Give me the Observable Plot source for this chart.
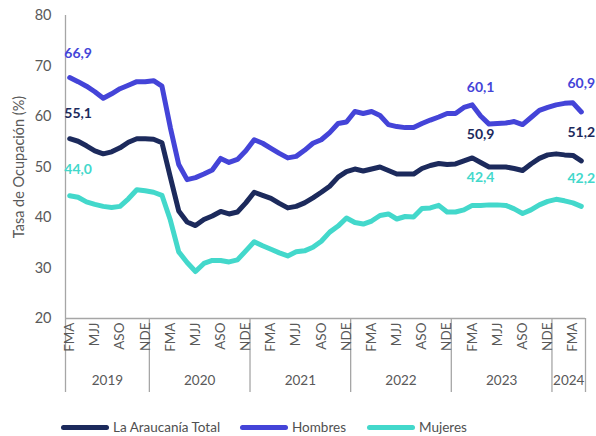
<!DOCTYPE html>
<html><head><meta charset="utf-8">
<script src="https://cdn.jsdelivr.net/npm/d3@7"></script>
<script src="https://cdn.jsdelivr.net/npm/@observablehq/plot@0.6"></script>
<style>
body{margin:0;background:#fff;font-family:Lato,sans-serif;}
#chart{position:relative;width:596px;height:436px;background:#fff;}
.legend{position:absolute;top:400px;left:0;width:596px;height:36px;}
.item{position:absolute;top:19px;display:flex;align-items:center;font-size:13.5px;color:#505050;line-height:16px;white-space:nowrap;}
.sw{width:48px;height:5px;border-radius:3px;margin-right:4px;}
</style></head><body><div id="chart"></div>
<script>
// Rolling-quarter names and years
const months = ["DEF","EFM","FMA","MAM","AMJ","MJJ","JJA","JAS","ASO","SON","OND","NDE"];
const years = ["2019","2020","2021","2022","2023","2024"];
const yearStart = [2, 0, 0, 0, 0, 0];   // first month index shown in each year
const yearEnd   = [11, 11, 11, 11, 11, 3];
const shownMonths = ["FMA","MJJ","ASO","NDE"];
const yTicks = [20, 30, 40, 50, 60, 70, 80];

const seriesNames = ["La Araucanía Total", "Hombres", "Mujeres"];
const colors = ["#1c2a5c", "#4444d8", "#43d8cb"];

const total = [55.6, 55.1, 54.2, 53.2, 52.6, 53.0, 53.8, 54.9, 55.6, 55.6,
  55.5, 54.8, 48.0, 41.3, 39.1, 38.4, 39.6, 40.3, 41.2, 40.7, 41.1, 42.9,
  45.0, 44.4, 43.8, 42.8, 41.9, 42.2, 42.9, 43.9, 45.0, 46.2, 48.0, 49.1,
  49.6, 49.2, 49.6, 50.0, 49.3, 48.6, 48.6, 48.6, 49.7, 50.3, 50.7, 50.5,
  50.6, 51.2, 51.8, 50.9, 50.0, 50.0, 50.0, 49.7, 49.3, 50.6, 51.7, 52.4,
  52.6, 52.4, 52.3, 51.2];
const hombres = [67.7, 66.9, 66.0, 64.9, 63.6, 64.5, 65.5, 66.2, 66.9, 66.9,
  67.1, 66.0, 57.8, 50.5, 47.5, 47.9, 48.6, 49.4, 51.7, 50.9, 51.5, 53.2,
  55.4, 54.7, 53.7, 52.7, 51.8, 52.1, 53.3, 54.7, 55.4, 56.8, 58.6, 58.9,
  61.0, 60.6, 61.0, 60.2, 58.4, 58.0, 57.8, 57.8, 58.6, 59.3, 59.9, 60.6,
  60.6, 61.8, 62.3, 60.1, 58.5, 58.6, 58.7, 59.0, 58.4, 59.8, 61.2, 61.8,
  62.3, 62.6, 62.7, 60.9];
const mujeres = [44.3, 44.0, 43.1, 42.6, 42.2, 42.0, 42.2, 43.7, 45.5, 45.3,
  45.0, 44.4, 39.5, 33.2, 31.1, 29.3, 30.9, 31.5, 31.5, 31.2, 31.6, 33.4,
  35.2, 34.4, 33.7, 33.0, 32.4, 33.2, 33.4, 34.1, 35.3, 37.1, 38.3, 39.9,
  39.0, 38.7, 39.3, 40.4, 40.7, 39.7, 40.2, 40.1, 41.8, 41.9, 42.4, 41.1,
  41.1, 41.5, 42.4, 42.4, 42.5, 42.5, 42.4, 41.7, 40.8, 41.5, 42.5, 43.2,
  43.6, 43.3, 42.9, 42.2];
const labelIdx = [1, 49, 61];   // MAM 2019, MAM 2023, MAM 2024

// categories
const cats = [];
years.forEach((y, k) => { for (let m = yearStart[k]; m <= yearEnd[k]; m++) cats.push({year: y, m: months[m]}); });
const n = cats.length;
const monthTicks = cats.map((c, i) => i).filter(i => shownMonths.includes(cats[i].m));
const boundaries = [-0.5];
const yearCenters = new Map();
years.forEach(y => {
  const idx = cats.map((c, i) => i).filter(i => cats[i].year === y);
  const a = idx[0], b = idx[idx.length - 1];
  boundaries.push(b + 0.5);
  yearCenters.set((a + b) / 2, y);
});

const seriesVals = [total, hombres, mujeres];
const data = [];
seriesVals.forEach((arr, s) => arr.forEach((v, i) => data.push({i, v, s: seriesNames[s]})));
const labels = [];
seriesVals.forEach((arr, s) => labelIdx.forEach(i => labels.push({i, v: arr[i], s: seriesNames[s]})));
const fmt = v => v.toFixed(1).replace(".", ",");

const H = 400;
const chart = Plot.plot({
  width: 596, height: H,
  marginLeft: 65, marginRight: 11, marginTop: 15, marginBottom: H - 318,
  style: {fontFamily: "Lato, sans-serif", fontSize: "13.5px", color: "#595959", background: "white", overflow: "visible"},
  x: {type: "linear", domain: [-0.5, n - 0.5], label: null},
  y: {domain: [20, 80]},
  color: {domain: seriesNames, range: colors},
  marks: [
    Plot.axisY({ticks: yTicks, tickSize: 0, tickPadding: 14, fontSize: 14.5, label: "Tasa de Ocupación (%)", labelAnchor: "center", labelArrow: "none", labelOffset: 52, fill: "#595959"}),
    Plot.ruleX([-0.5], {stroke: "#a6a6a6", strokeWidth: 1.3}),
    Plot.ruleY([20], {stroke: "#a6a6a6", strokeWidth: 1.3}),
    Plot.axisX({ticks: boundaries, tickSize: 74, tickFormat: () => "", label: null, stroke: "#a6a6a6", strokeWidth: 1.3, strokeOpacity: 1}),
    Plot.axisX({ticks: monthTicks, tickFormat: i => cats[i].m, label: null, tickRotate: -90, tickSize: 0, tickPadding: 4, fill: "#595959"}),
    Plot.axisX({ticks: [...yearCenters.keys()], tickFormat: d => yearCenters.get(d), label: null, tickSize: 0, tickPadding: 57, fill: "#595959"}),
    Plot.line(data, {x: "i", y: "v", z: "s", stroke: "s", strokeWidth: 5, strokeLinejoin: "round", strokeLinecap: "round"}),
    Plot.text(labels, {x: "i", y: "v", text: d => fmt(d.v), fill: "s", dy: -28, fontWeight: "bold", fontSize: 14})
  ]
});
const root = document.getElementById("chart");
root.appendChild(chart);
const lg = document.createElement("div");
lg.className = "legend";
const lefts = [61, 240, 367];
seriesNames.forEach((name, k) => {
  const it = document.createElement("div");
  it.className = "item";
  it.style.left = lefts[k] + "px";
  const sw = document.createElement("div");
  sw.className = "sw";
  sw.style.background = colors[k];
  const tx = document.createElement("span");
  tx.textContent = name;
  it.appendChild(sw); it.appendChild(tx);
  lg.appendChild(it);
});
root.appendChild(lg);
</script></body></html>
